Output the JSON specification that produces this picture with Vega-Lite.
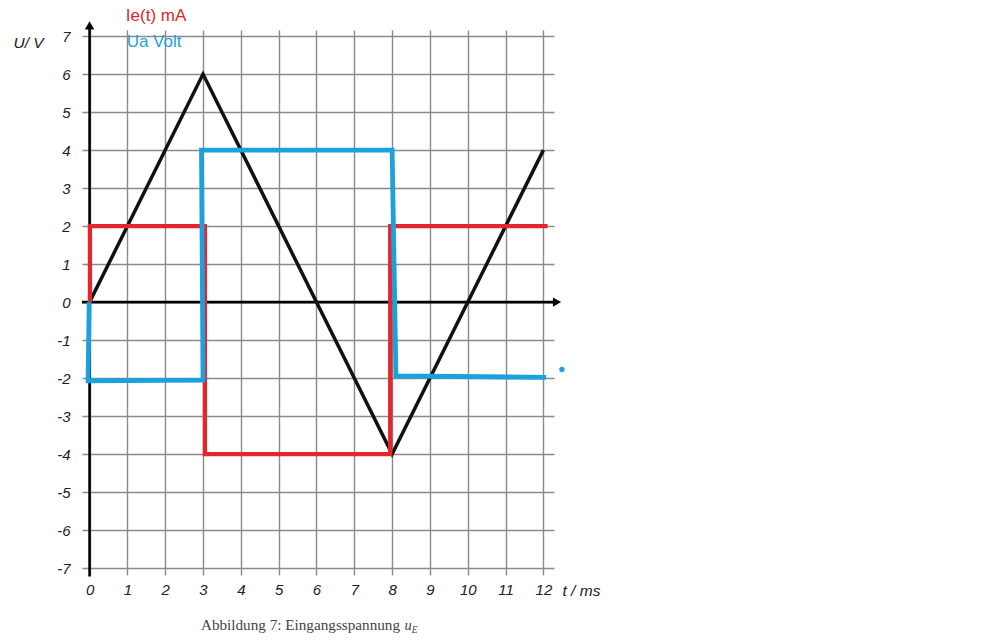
{
  "$schema": "https://vega.github.io/schema/vega-lite/v6.json",
  "width": 472,
  "height": 545,
  "autosize": "none",
  "padding": {"left": 82, "top": 30, "right": 452, "bottom": 66},
  "background": "white",
  "config": {"view": {"stroke": null}},
  "datasets": {
    "lines": [
      {"series": "U", "i": 0, "t": 0, "v": 0},
      {"series": "U", "i": 1, "t": 3, "v": 6},
      {"series": "U", "i": 2, "t": 8, "v": -4},
      {"series": "U", "i": 3, "t": 12, "v": 4},
      {"series": "Ie", "i": 0, "t": 0.01, "v": 0},
      {"series": "Ie", "i": 1, "t": 0.01, "v": 2},
      {"series": "Ie", "i": 2, "t": 3.05, "v": 2},
      {"series": "Ie", "i": 3, "t": 3.05, "v": -4},
      {"series": "Ie", "i": 4, "t": 7.95, "v": -4},
      {"series": "Ie", "i": 5, "t": 7.95, "v": 2},
      {"series": "Ie", "i": 6, "t": 12.11, "v": 2},
      {"series": "Ua", "i": 0, "t": -0.01, "v": 0},
      {"series": "Ua", "i": 1, "t": -0.04, "v": -2.07},
      {"series": "Ua", "i": 2, "t": 3.0, "v": -2.05},
      {"series": "Ua", "i": 3, "t": 2.96, "v": 4.0},
      {"series": "Ua", "i": 4, "t": 8.0, "v": 4.0},
      {"series": "Ua", "i": 5, "t": 8.1, "v": -1.94},
      {"series": "Ua", "i": 6, "t": 12.07, "v": -1.98}
    ],
    "axes": [
      {"t": -0.2, "t2": 12.32, "v": 0, "v2": 0},
      {"t": 0, "t2": 0, "v": -7.22, "v2": 7.25}
    ],
    "arrows": [
      {"dir": "right", "t": 12.36, "v": 0},
      {"dir": "up", "t": 0, "v": 7.28}
    ],
    "labels": [
      {"label": "Ie(t) mA", "kind": "Ie", "t": 0.96, "v": 7.53},
      {"label": "Ua Volt", "kind": "Ua", "t": 0.98, "v": 6.85}
    ],
    "caption": [
      {"label": "Abbildung 7: Eingangsspannung", "t": 2.944, "v": -8.628}
    ],
    "captionU": [
      {"label": "u", "t": 8.33, "v": -8.628}
    ],
    "captionE": [
      {"label": "E", "t": 8.52, "v": -8.70}
    ],
    "dot": [
      {"t": 12.49, "v": -1.77}
    ]
  },
  "layer": [
    {
      "data": {"name": "axes"},
      "mark": {"type": "rule", "color": "#000000", "strokeWidth": 2.6},
      "encoding": {
        "x": {
          "field": "t", "type": "quantitative",
          "scale": {"domain": [-0.2, 12.28], "nice": false, "zero": false},
          "axis": {
            "values": [0,1,2,3,4,5,6,7,8,9,10,11,12],
            "tickCount": 30,
            "labelExpr": "'' + datum.value",
            "labelOverlap": false,
            "grid": true, "gridColor": "#8a8a8a", "gridWidth": 1.4,
            "domain": false, "ticks": false,
            "labelFont": "Liberation Sans", "labelFontStyle": "italic", "labelFontSize": 15,
            "labelColor": "#222222", "labelPadding": 7, "labelFlush": false,
            "title": "t / ms", "titleFont": "Liberation Sans", "titleFontStyle": "italic",
            "titleFontWeight": "normal", "titleFontSize": 15.5, "titleColor": "#222222",
            "titleAngle": 0, "titleAlign": "left", "titleBaseline": "middle",
            "titleX": 480, "titleY": 15.7
          }
        },
        "x2": {"field": "t2"},
        "y": {
          "field": "v", "type": "quantitative",
          "scale": {"domain": [-7.18, 7.16], "nice": false, "zero": false},
          "axis": {
            "values": [-7,-6,-5,-4,-3,-2,-1,0,1,2,3,4,5,6,7],
            "tickCount": 30,
            "labelExpr": "'' + datum.value",
            "labelOverlap": false,
            "grid": true, "gridColor": "#8a8a8a", "gridWidth": 1.4,
            "domain": false, "ticks": false,
            "labelFont": "Liberation Sans", "labelFontStyle": "italic", "labelFontSize": 15,
            "labelColor": "#222222", "labelPadding": 12, "labelFlush": false,
            "title": "U/ V", "titleFont": "Liberation Sans", "titleFontStyle": "italic",
            "titleFontWeight": "normal", "titleFontSize": 15.5, "titleColor": "#222222",
            "titleAngle": 0, "titleAlign": "left", "titleBaseline": "middle",
            "titleX": -69, "titleY": 12
          }
        },
        "y2": {"field": "v2"}
      }
    },
    {
      "data": {"name": "arrows"},
      "transform": [{"filter": "datum.dir === 'right'"}],
      "mark": {"type": "point", "shape": "triangle-right", "filled": true, "color": "#000000", "size": 90, "opacity": 1},
      "encoding": {
        "x": {"field": "t", "type": "quantitative"},
        "y": {"field": "v", "type": "quantitative"}
      }
    },
    {
      "data": {"name": "arrows"},
      "transform": [{"filter": "datum.dir === 'up'"}],
      "mark": {"type": "point", "shape": "triangle-up", "filled": true, "color": "#000000", "size": 90, "opacity": 1},
      "encoding": {
        "x": {"field": "t", "type": "quantitative"},
        "y": {"field": "v", "type": "quantitative"}
      }
    },
    {
      "data": {"name": "lines"},
      "transform": [{"filter": "datum.series === 'U'"}],
      "mark": {"type": "line", "color": "#111111", "strokeWidth": 3.5, "strokeJoin": "miter"},
      "encoding": {
        "x": {"field": "t", "type": "quantitative"},
        "y": {"field": "v", "type": "quantitative"},
        "order": {"field": "i", "type": "quantitative"}
      }
    },
    {
      "data": {"name": "lines"},
      "transform": [{"filter": "datum.series === 'Ie'"}],
      "mark": {"type": "line", "color": "#e4252d", "strokeWidth": 4.3, "strokeJoin": "miter"},
      "encoding": {
        "x": {"field": "t", "type": "quantitative"},
        "y": {"field": "v", "type": "quantitative"},
        "order": {"field": "i", "type": "quantitative"}
      }
    },
    {
      "data": {"name": "lines"},
      "transform": [{"filter": "datum.series === 'Ua'"}],
      "mark": {"type": "line", "color": "#1ba1de", "strokeWidth": 4.8, "strokeJoin": "miter"},
      "encoding": {
        "x": {"field": "t", "type": "quantitative"},
        "y": {"field": "v", "type": "quantitative"},
        "order": {"field": "i", "type": "quantitative"}
      }
    },
    {
      "data": {"name": "dot"},
      "mark": {"type": "circle", "color": "#1ba1de", "size": 28, "opacity": 1},
      "encoding": {
        "x": {"field": "t", "type": "quantitative"},
        "y": {"field": "v", "type": "quantitative"}
      }
    },
    {
      "data": {"name": "labels"},
      "mark": {"type": "text", "align": "left", "baseline": "middle", "font": "Liberation Sans", "fontSize": 17},
      "encoding": {
        "x": {"field": "t", "type": "quantitative"},
        "y": {"field": "v", "type": "quantitative"},
        "text": {"field": "label"},
        "color": {"field": "kind", "type": "nominal", "scale": {"domain": ["Ie", "Ua"], "range": ["#e4252d", "#1ba1de"]}, "legend": null}
      }
    },
    {
      "data": {"name": "caption"},
      "mark": {"type": "text", "align": "left", "baseline": "alphabetic", "font": "Liberation Serif", "fontSize": 15.2, "color": "#444444"},
      "encoding": {
        "x": {"field": "t", "type": "quantitative"},
        "y": {"field": "v", "type": "quantitative"},
        "text": {"field": "label"}
      }
    },
    {
      "data": {"name": "captionU"},
      "mark": {"type": "text", "align": "left", "baseline": "alphabetic", "font": "Liberation Serif", "fontStyle": "italic", "fontSize": 14.5, "color": "#444444"},
      "encoding": {
        "x": {"field": "t", "type": "quantitative"},
        "y": {"field": "v", "type": "quantitative"},
        "text": {"field": "label"}
      }
    },
    {
      "data": {"name": "captionE"},
      "mark": {"type": "text", "align": "left", "baseline": "alphabetic", "font": "Liberation Serif", "fontStyle": "italic", "fontSize": 9.5, "color": "#444444"},
      "encoding": {
        "x": {"field": "t", "type": "quantitative"},
        "y": {"field": "v", "type": "quantitative"},
        "text": {"field": "label"}
      }
    }
  ]
}
